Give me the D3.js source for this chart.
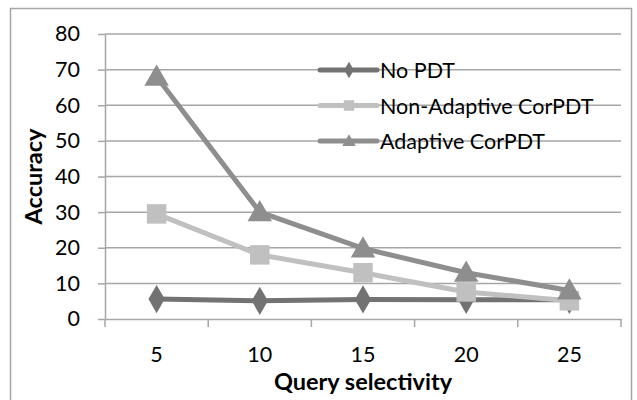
<!DOCTYPE html>
<html>
<head>
<meta charset="utf-8">
<script src="https://cdn.jsdelivr.net/npm/d3@7"></script>
<style>
  html, body { margin: 0; padding: 0; background: #fff; }
  svg { display: block; font-family: Lato, "Open Sans", sans-serif; }
</style>
</head>
<body>
<svg id="chart" width="637" height="400"></svg>
<script>
// Query selectivity categories and accuracy per method
const categories = ["5", "10", "15", "20", "25"];
const noPdt = [5.6, 5.1, 5.5, 5.4, 5.4];
const nonAdaptive = [29.5, 18, 13, 7.6, 5.1];
const adaptive = [68, 30, 19.8, 13, 8];
const yTicks = [0, 10, 20, 30, 40, 50, 60, 70, 80];

const seriesNames = ["No PDT", "Non-Adaptive CorPDT", "Adaptive CorPDT"];
const seriesValues = [noPdt, nonAdaptive, adaptive];
const colors = ["#727272", "#c0c0c0", "#8e8e8e"];
const shapes = [d3.symbolDiamond, d3.symbolSquare, d3.symbolTriangle];

const svg = d3.select("#chart");
const plot = { left: 105, right: 621, top: 34, bottom: 319 };

// outer frame
svg.append("rect")
  .attr("x", 10.5).attr("y", 8.5)
  .attr("width", 621).attr("height", 400)
  .attr("fill", "none").attr("stroke", "#a6a6a6").attr("stroke-width", 1.5);

const x = d3.scaleBand().domain(categories).range([plot.left, plot.right]);
const y = d3.scaleLinear().domain([0, 80]).range([plot.bottom, plot.top]);

// horizontal gridlines
svg.append("g").selectAll("line").data(yTicks.filter(t => t > 0)).join("line")
  .attr("x1", plot.left).attr("x2", plot.right)
  .attr("y1", d => y(d)).attr("y2", d => y(d))
  .attr("stroke", "#a6a6a6").attr("stroke-width", 1.5);

// y axis
const yAxis = svg.append("g")
  .attr("transform", `translate(${plot.left},0)`)
  .call(d3.axisLeft(y).tickValues(yTicks).tickSize(7).tickPadding(18).tickSizeOuter(0));
yAxis.select(".domain").attr("stroke", "#a6a6a6").attr("stroke-width", 1.5);
yAxis.selectAll(".tick line").attr("stroke", "#a6a6a6").attr("stroke-width", 1.5);
yAxis.selectAll(".tick text").attr("font-size", 21.5).attr("fill", "#000")
  .attr("font-family", "Lato, sans-serif");

// x axis with ticks at band boundaries
const xAxis = svg.append("g")
  .attr("transform", `translate(0,${plot.bottom})`)
  .call(d3.axisBottom(x).tickSize(0).tickPadding(28).tickSizeOuter(0));
xAxis.select(".domain").attr("stroke", "#a6a6a6").attr("stroke-width", 1.5);
xAxis.selectAll(".tick text").attr("font-size", 21.5).attr("fill", "#000")
  .attr("font-family", "Lato, sans-serif");
const bounds = categories.map(c => x(c)).concat([x(categories[categories.length - 1]) + x.bandwidth()]);
svg.append("g").selectAll("line").data(bounds).join("line")
  .attr("x1", d => d).attr("x2", d => d)
  .attr("y1", plot.bottom).attr("y2", plot.bottom + 8)
  .attr("stroke", "#a6a6a6").attr("stroke-width", 1.5);

// axis titles
svg.append("text")
  .attr("x", (plot.left + plot.right) / 2).attr("y", 390)
  .attr("text-anchor", "middle").attr("font-weight", "bold").attr("font-size", 23.5)
  .text("Query selectivity");
svg.append("text")
  .attr("transform", `translate(42,${(plot.top + plot.bottom) / 2}) rotate(-90)`)
  .attr("text-anchor", "middle").attr("font-weight", "bold").attr("font-size", 23.5)
  .text("Accuracy");

const cx = c => x(c) + x.bandwidth() / 2;
const line = d3.line().x((d, i) => cx(categories[i])).y(d => y(d));

// series lines and markers
seriesValues.forEach((vals, s) => {
  const g = svg.append("g");
  g.append("path").datum(vals)
    .attr("d", line).attr("fill", "none")
    .attr("stroke", colors[s]).attr("stroke-width", 5);
  g.selectAll("path.m").data(vals).join("path")
    .attr("class", "m")
    .attr("transform", (d, i) => `translate(${cx(categories[i])},${y(d) + (s === 2 ? 2 : 0)})`)
    .attr("d", d3.symbol().type(shapes[s]).size(s === 0 ? 230 : s === 1 ? 380 : 260))
    .attr("fill", colors[s]);
});

// legend
const legendRows = [70, 105.5, 141];
const lg = svg.append("g");
seriesNames.forEach((name, s) => {
  const ly = legendRows[s];
  lg.append("line").attr("x1", 320).attr("x2", 377).attr("y1", ly).attr("y2", ly)
    .attr("stroke", colors[s]).attr("stroke-width", 5).attr("stroke-linecap", "round");
  lg.append("path")
    .attr("transform", `translate(349,${ly + (s === 2 ? 1 : 0)})`)
    .attr("d", d3.symbol().type(shapes[s]).size(s === 1 ? 110 : 80))
    .attr("fill", colors[s]);
  lg.append("text").attr("x", 380).attr("y", ly + 8)
    .attr("font-size", 21.5).attr("fill", "#000")
    .text(name);
});
</script>
</body>
</html>
